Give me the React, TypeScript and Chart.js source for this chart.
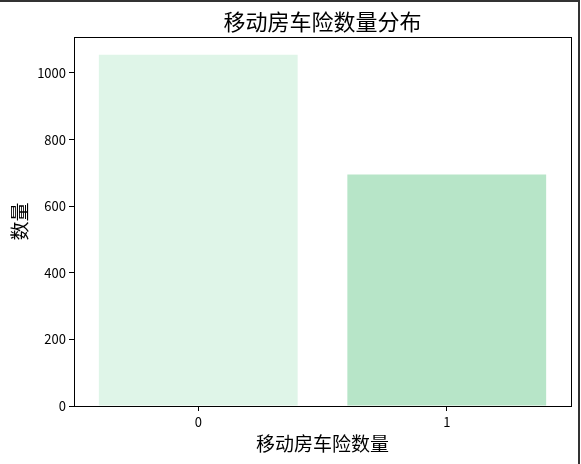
import React, { useEffect, useRef } from "react";
import { Chart, registerables } from "chart.js";

Chart.register(...registerables);

const categories = ["0", "1"];
const counts = [1055, 695];
const barColors = ["#dff5e8", "#b7e5c8"];
const yTicks = [0, 200, 400, 600, 800, 1000];
const yMax = 1108;

const titleText = "移动房车险数量分布";
const xTitle = "移动房车险数量";
const yTitle = "数量";

const FONT = "'Noto Sans CJK SC', 'DejaVu Sans', sans-serif";

const framePlugin = {
  id: "frame",
  afterDraw(chart: any) {
    const { ctx, chartArea } = chart;
    ctx.save();
    ctx.strokeStyle = "#000";
    ctx.lineWidth = 1;
    ctx.strokeRect(
      Math.round(chartArea.left) + 0.5,
      Math.round(chartArea.top) + 0.5,
      Math.round(chartArea.right - chartArea.left),
      Math.round(chartArea.bottom - chartArea.top)
    );
    ctx.strokeStyle = "#333";
    ctx.lineWidth = 2;
    ctx.beginPath();
    ctx.moveTo(0, 1);
    ctx.lineTo(579, 1);
    ctx.lineTo(579, 464);
    ctx.stroke();
    ctx.restore();
  },
};

export default function App() {
  const ref = useRef<HTMLCanvasElement | null>(null);

  useEffect(() => {
    document.body.style.margin = "0";
    const chart = new Chart(ref.current as HTMLCanvasElement, {
      type: "bar",
      data: {
        labels: categories,
        datasets: [
          {
            data: counts,
            backgroundColor: barColors,
            borderWidth: 0,
            barPercentage: 0.8,
            categoryPercentage: 1.0,
          },
        ],
      },
      options: {
        animation: false,
        responsive: false,
        devicePixelRatio: 1,
        layout: { padding: { left: 0, right: 10, top: 0, bottom: 0 } },
        plugins: {
          legend: { display: false },
          tooltip: { enabled: false },
          title: { display: false },
        },
        scales: {
          x: {
            offset: true,
            grid: {
              display: true,
              offset: false,
              drawOnChartArea: false,
              drawTicks: true,
              tickLength: 5,
              color: "#000",
            },
            border: { display: true, color: "#000" },
            ticks: {
              color: "#000",
              font: { family: FONT, size: 13 },
              padding: 3,
            },
            title: {
              display: true,
              text: xTitle,
              color: "#000",
              font: { family: FONT, size: 19 },
              padding: { top: 0, bottom: 9 },
            },
            afterFit: (s: any) => {
              s.height = 58;
            },
          },
          xTop: {
            type: "category",
            position: "top",
            offset: true,
            grid: { display: false, drawTicks: false },
            border: { display: false },
            ticks: { display: false },
            title: {
              display: true,
              text: titleText,
              color: "#000",
              font: { family: FONT, size: 22, weight: "normal" },
              padding: { top: 8, bottom: 0 },
            },
            afterFit: (s: any) => {
              s.height = 37;
            },
          },
          y: {
            min: 0,
            max: yMax,
            grid: {
              display: true,
              drawOnChartArea: false,
              drawTicks: true,
              tickLength: 5,
              color: "#000",
            },
            border: { display: true, color: "#000" },
            ticks: {
              stepSize: 200,
              color: "#000",
              font: { family: FONT, size: 13 },
              padding: 3,
              callback: (v: any) => String(v),
            },
            afterBuildTicks: (s: any) => {
              s.ticks = yTicks.map((v) => ({ value: v }));
            },
            title: {
              display: true,
              text: yTitle,
              color: "#000",
              font: { family: FONT, size: 19 },
              padding: { top: 8, bottom: 0 },
            },
            afterFit: (s: any) => {
              s.width = 74;
            },
          },
        },
      },
      plugins: [framePlugin],
    } as any);
    return () => chart.destroy();
  }, []);

  return (
    <div style={{ position: "absolute", left: 0, top: 0, width: 581, height: 464, background: "#fff" }}>
      <canvas ref={ref} width={581} height={464} style={{ width: 581, height: 464 }} />
    </div>
  );
}
